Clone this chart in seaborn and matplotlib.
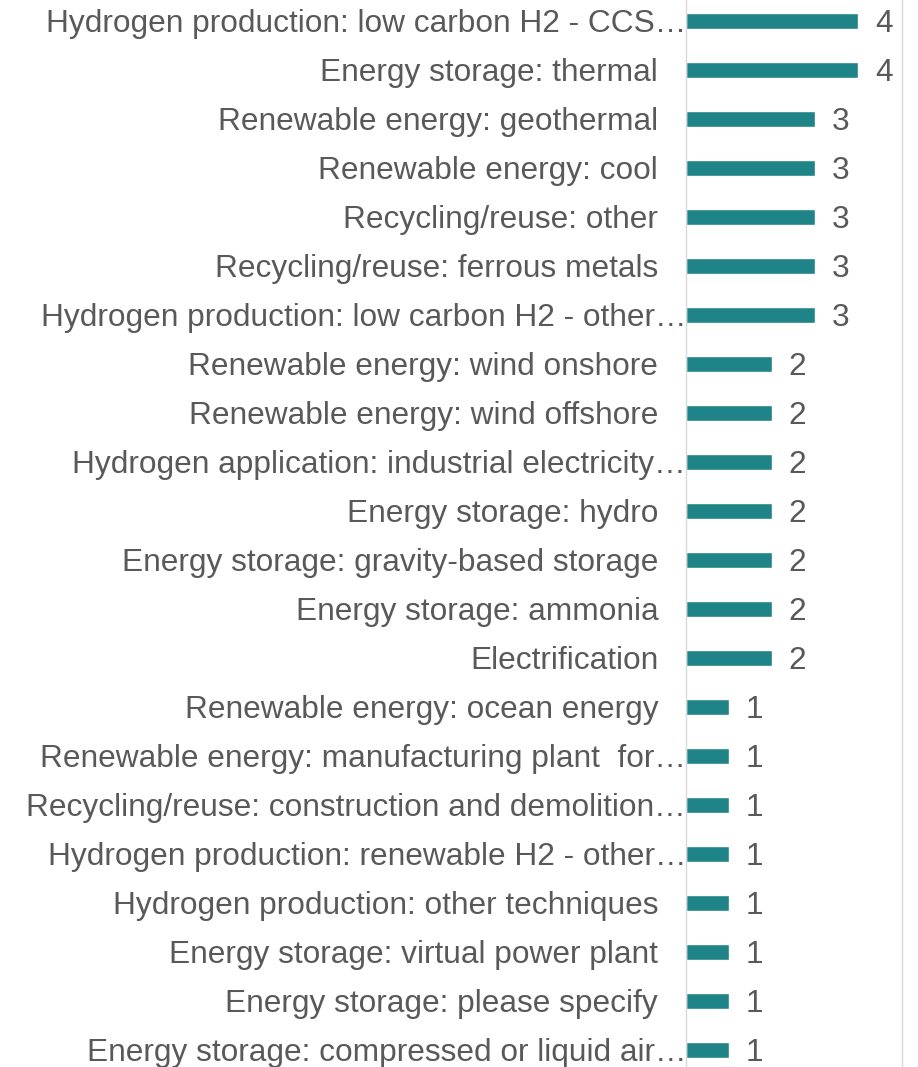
import matplotlib
matplotlib.use("Agg")
import matplotlib.pyplot as plt
import seaborn as sns
import pandas as pd

# categories, top to bottom
categories = [
    "Hydrogen production: low carbon H2 - CCS…",
    "Energy storage: thermal",
    "Renewable energy: geothermal",
    "Renewable energy: cool",
    "Recycling/reuse: other",
    "Recycling/reuse: ferrous metals",
    "Hydrogen production: low carbon H2 - other…",
    "Renewable energy: wind onshore",
    "Renewable energy: wind offshore",
    "Hydrogen application: industrial electricity…",
    "Energy storage: hydro",
    "Energy storage: gravity-based storage",
    "Energy storage: ammonia",
    "Electrification",
    "Renewable energy: ocean energy",
    "Renewable energy: manufacturing plant  for…",
    "Recycling/reuse: construction and demolition…",
    "Hydrogen production: renewable H2 - other…",
    "Hydrogen production: other techniques",
    "Energy storage: virtual power plant",
    "Energy storage: please specify",
    "Energy storage: compressed or liquid air…",
]
counts = [4, 4, 3, 3, 3, 3, 3, 2, 2, 2, 2, 2, 2, 2, 1, 1, 1, 1, 1, 1, 1, 1]

df = pd.DataFrame({"category": categories, "count": counts})

sns.set_style("white")
plt.rcParams["font.family"] = ["Liberation Sans", "DejaVu Sans"]

text_color = "#595959"
bar_color = "#1F8488"
fs = 22.8

fig = plt.figure(figsize=(9.18, 10.67), dpi=100)
ax = fig.add_axes([0.7473, -0.007, 0.2353, 1.0103])

sns.barplot(data=df, x="count", y="category", color=bar_color, width=0.33,
            orient="h", ax=ax, saturation=1)

ax.set_xlim(0, 5.02)
ax.set_ylim(len(categories) - 0.5, -0.5)
ax.set_xlabel("")
ax.set_ylabel("")
ax.set_xticks([])

ax.tick_params(axis="y", length=0, labelsize=fs, labelcolor=text_color, pad=20)
for tick, label in zip(ax.yaxis.get_major_ticks(), categories):
    if label.endswith("…"):
        tick.set_pad(0)

# value labels, nudged a little lower like the original
for c in ax.containers:
    for ann in ax.bar_label(c, padding=12, fontsize=fs, color=text_color):
        ann.xyann = (12, -2.5)

for side in ["top", "bottom"]:
    ax.spines[side].set_visible(False)
for side in ["left", "right"]:
    ax.spines[side].set_color("#D9D9D9")
    ax.spines[side].set_linewidth(1)

fig.savefig("out.png", dpi=100)
